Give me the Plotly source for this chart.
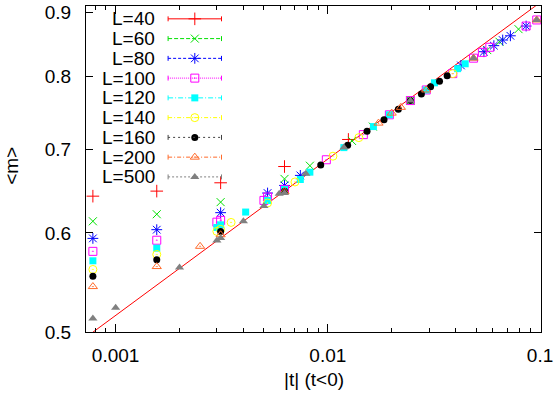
import math
import plotly.graph_objects as go

# ---------------- data ----------------
labels = ["L=40", "L=60", "L=80", "L=100", "L=120", "L=140", "L=160", "L=200", "L=500"]

t_L40 = [0.00078125, 0.0015625, 0.003125, 0.00625, 0.0125]
m_L40 = [0.642, 0.648, 0.658, 0.678, 0.7126]

t_L60 = [0.00078125, 0.0015625, 0.003125, 0.00625, 0.00823, 0.013, 0.0163, 0.0245, 0.0564, 0.0644, 0.0792]
m_L60 = [0.613, 0.621, 0.635, 0.6627, 0.679, 0.7107, 0.7297, 0.7655, 0.840, 0.853, 0.873]

t_L80 = [0.00078125, 0.0015625, 0.003125, 0.0052, 0.00625, 0.00742, 0.0424, 0.0544, 0.0606, 0.0667, 0.0725, 0.086]
m_L80 = [0.594, 0.6036, 0.6228, 0.6457, 0.6548, 0.667, 0.8166, 0.8375, 0.8469, 0.8557, 0.8624, 0.878]

t_L100 = [0.00078125, 0.0015625, 0.003, 0.003125, 0.005, 0.0052, 0.00625, 0.00984, 0.0147, 0.0195,
          0.0245, 0.0291, 0.0388, 0.0486, 0.0535, 0.058, 0.086, 0.0965]
m_L100 = [0.580, 0.592, 0.612, 0.614, 0.637, 0.641, 0.650, 0.6865, 0.719, 0.7457,
          0.7655, 0.7806, 0.8044, 0.8276, 0.8365, 0.8444, 0.878, 0.8879]

t_L120 = [0.00078125, 0.0015625, 0.003, 0.003125, 0.0041, 0.0052, 0.00625, 0.00742, 0.00823, 0.0119,
          0.0164, 0.0195, 0.0291, 0.0318, 0.0409, 0.0444]
m_L120 = [0.570, 0.5834, 0.606, 0.609, 0.6235, 0.637, 0.650, 0.662, 0.671, 0.702,
          0.7297, 0.7457, 0.7806, 0.7909, 0.8118, 0.8191]

t_L140 = [0.00078125, 0.0015625, 0.003, 0.003125, 0.0035, 0.0052, 0.007, 0.01057, 0.014, 0.0388]
m_L140 = [0.561, 0.5767, 0.6017, 0.604, 0.6117, 0.634, 0.659, 0.691, 0.715, 0.8044]

t_L160 = [0.00078125, 0.0015625, 0.003125, 0.00625, 0.00926, 0.0124, 0.0153, 0.0184, 0.0215, 0.0245,
          0.0276, 0.0305, 0.0336, 0.0365]
m_L160 = [0.554, 0.5712, 0.6017, 0.6477, 0.680, 0.705, 0.7236, 0.739, 0.7534, 0.7655,
          0.7748, 0.7852, 0.7933, 0.8012]

t_L200 = [0.00078125, 0.0015625, 0.0025, 0.003125, 0.00625, 0.01733, 0.02, 0.0221, 0.0291, 0.0486, 0.0965]
m_L200 = [0.5436, 0.564, 0.5854, 0.598, 0.6475, 0.7344, 0.748, 0.756, 0.7806, 0.8276, 0.8879]

t_L500 = [0.00078125, 0.001, 0.002, 0.003, 0.003125, 0.004, 0.005, 0.0059, 0.00625, 0.00788,
          0.0119, 0.0245, 0.0486, 0.0965]
m_L500 = [0.5126, 0.5229, 0.5629, 0.5917, 0.5944, 0.613, 0.6306, 0.645, 0.6457, 0.669,
          0.702, 0.7655, 0.8276, 0.8879]

# fitted power-law line (end points)
fit_t = [0.0007, 0.11]
fit_m = [0.4930, 0.9277]

x_tickvals = [0.001, 0.01, 0.1]
x_ticktext = ["0.001", "0.01", "0.1"]
y_tickvals = [0.5, 0.6, 0.7, 0.8, 0.9]
y_ticktext = ["0.5", "0.6", "0.7", "0.8", "0.9"]

series_t = [t_L40, t_L60, t_L80, t_L100, t_L120, t_L140, t_L160, t_L200, t_L500]
series_m = [m_L40, m_L60, m_L80, m_L100, m_L120, m_L140, m_L160, m_L200, m_L500]

# ---------------- styles ----------------
colors = ["#ff0000", "#00e000", "#0000ff", "#ff00ff", "#00ffff", "#ffff00", "#000000", "#ff6a2a", "#808080"]
symbols = ["cross-thin", "x-thin", "asterisk", "square-open-dot", "square", "circle-open-dot",
           "circle", "triangle-up-open-dot", "triangle-up"]
sizes = [9, 8, 9, 8, 7, 8, 7, 8, 8]
dashes = ["solid", "4px,2px", "3px,2px", "1px,1px", "5px,2px,1px,2px", "4px,2px,1px,2px",
          "2px,3px", "4px,2px,1px,2px", "2px,2px"]
line_colors = ["#ff0000", "#00e000", "#0000ff", "#ff00ff", "#00ffff", "#ffff00", "#404040", "#ff6a2a", "#808080"]

FONT = "Liberation Sans, Arial, Helvetica, sans-serif"
FS = 19

fig = go.Figure()

fig.add_trace(go.Scatter(x=fit_t, y=fit_m, mode="lines",
                         line=dict(color="#ff0000", width=1), showlegend=False, hoverinfo="skip"))

for i in range(len(labels)):
    filled = symbols[i] in ("square", "circle", "triangle-up")
    fig.add_trace(go.Scatter(
        x=series_t[i], y=series_m[i], mode="markers", name=labels[i], showlegend=False,
        marker=dict(symbol=symbols[i], size=sizes[i], color=colors[i],
                    line=dict(color=colors[i], width=0 if filled else 1)),
        cliponaxis=False))

# ---------------- custom legend (gnuplot style: text, then sample) ----------------
PL, PR, PT, PB = 86, 546, 2, 332
def px(x):
    return (x - PL) / (PR - PL)
def py(y):
    return (PB - y) / (PB - PT)

shapes = []
annotations = []
leg_x = []
leg_y = []
for i, lab in enumerate(labels):
    yy = 15 + 20 * i
    annotations.append(dict(x=px(158), y=py(yy), xref="paper", yref="paper", text=lab,
                            showarrow=False, xanchor="right", yanchor="middle",
                            font=dict(family=FONT, size=FS, color="black")))
    shapes.append(dict(type="line", xref="paper", yref="paper", x0=px(169), x1=px(223),
                       y0=py(yy), y1=py(yy), line=dict(color=line_colors[i], width=1, dash=dashes[i])))
    for xe in (169, 223):
        shapes.append(dict(type="line", xref="paper", yref="paper", x0=px(xe), x1=px(xe),
                           y0=py(yy - 2.5), y1=py(yy + 2.5), line=dict(color=line_colors[i], width=1)))
    leg_x.append(px(196))
    leg_y.append(py(yy))

for i in range(len(labels)):
    filled = symbols[i] in ("square", "circle", "triangle-up")
    fig.add_trace(go.Scatter(
        x=[leg_x[i]], y=[leg_y[i]], xaxis="x2", yaxis="y2", mode="markers", showlegend=False,
        marker=dict(symbol=symbols[i], size=sizes[i], color=colors[i],
                    line=dict(color=colors[i], width=0 if filled else 1)),
        hoverinfo="skip", cliponaxis=False))

# axis titles
annotations.append(dict(x=px(10), y=py(164), xref="paper", yref="paper", text="&lt;m&gt;",
                        textangle=-90, showarrow=False, xanchor="center", yanchor="middle",
                        font=dict(family=FONT, size=FS, color="black")))
annotations.append(dict(x=px(316), y=py(380), xref="paper", yref="paper", text="|t| (t&lt;0)",
                        showarrow=False, xanchor="center", yanchor="middle",
                        font=dict(family=FONT, size=FS, color="black")))

minor_x = [0.0008, 0.0009] + [k * 0.001 for k in range(2, 10)] + [k * 0.01 for k in range(2, 10)]

fig.update_layout(
    width=555, height=393,
    margin=dict(l=PL, r=555 - PR, t=PT, b=393 - PB, pad=0),
    paper_bgcolor="white", plot_bgcolor="white",
    showlegend=False,
    font=dict(family=FONT, size=FS, color="black"),
    xaxis=dict(type="log", range=[math.log10(0.000725), math.log10(0.10107)],
               tickvals=x_tickvals, ticktext=x_ticktext, ticks="inside", ticklen=8, tickwidth=1,
               tickcolor="black", showline=True, linecolor="black", linewidth=1, mirror="allticks",
               showgrid=False, zeroline=False, ticklabelstandoff=6, ticklabeloverflow="allow",
               tickfont=dict(family=FONT, size=FS, color="black"),
               minor=dict(ticks="inside", ticklen=4, tickwidth=1, tickcolor="black",
                          tickvals=minor_x, showgrid=False)),
    yaxis=dict(type="log", range=[math.log10(0.5), math.log10(0.911)],
               tickvals=y_tickvals, ticktext=y_ticktext, ticks="inside", ticklen=7, tickwidth=1,
               tickcolor="black", showline=True, linecolor="black", linewidth=1, mirror="allticks",
               showgrid=False, zeroline=False, ticklabelstandoff=10, ticklabeloverflow="allow",
               tickfont=dict(family=FONT, size=FS, color="black")),
    xaxis2=dict(overlaying="x", range=[0, 1], visible=False, fixedrange=True),
    yaxis2=dict(overlaying="y", range=[0, 1], visible=False, fixedrange=True),
    shapes=shapes,
    annotations=annotations,
)

fig.write_html("out.html", config={"displayModeBar": False},
               post_script="document.body.style.margin='0px';document.body.style.overflow='hidden';")
